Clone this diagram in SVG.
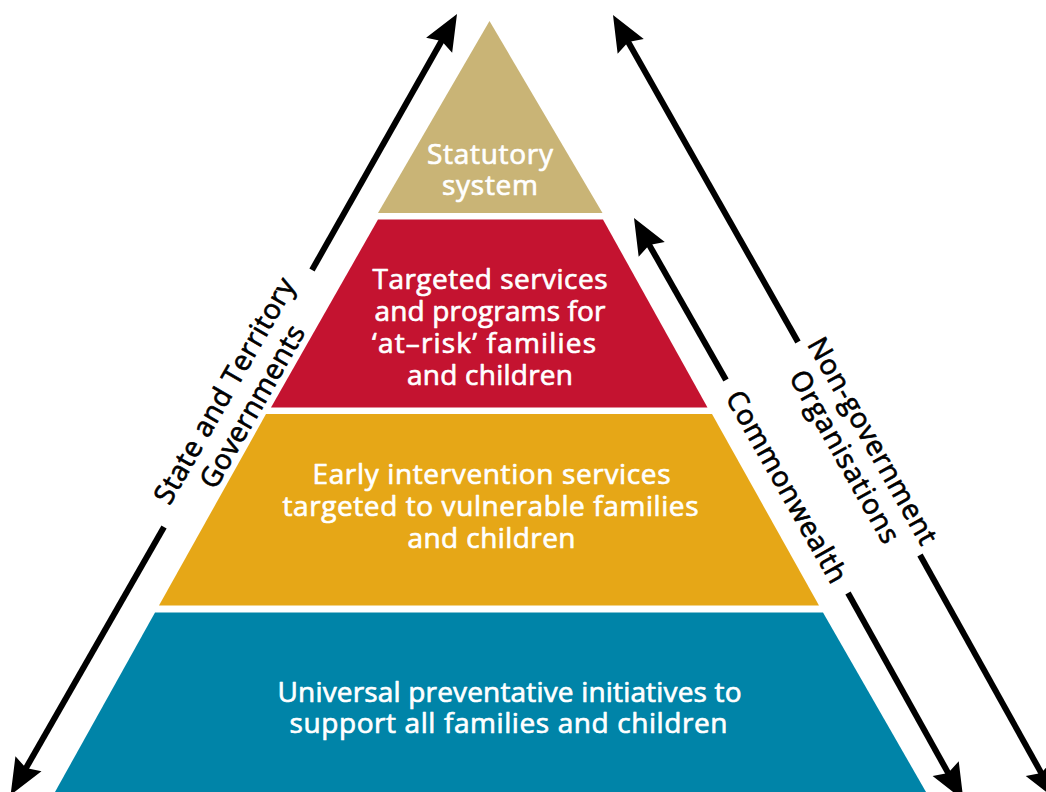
<svg xmlns="http://www.w3.org/2000/svg" xmlns:xlink="http://www.w3.org/1999/xlink" width="1046" height="792" viewBox="0 0 1046 792">
<style>
  text { font-family: "Open Sans", "Noto Sans", "Liberation Sans", sans-serif; font-size: 28px; text-anchor: middle; stroke-width: 0.7px; stroke-linejoin: round; }
  .w { fill: #ffffff; stroke: #ffffff; }
  .k { fill: #000000; stroke: #000000; }
  .shaft { stroke: #000000; stroke-width: 6; fill: none; stroke-linecap: butt; }
  .head { fill: #000000; }
</style>
<defs>
  <path id="ah" d="M0,0 L-36,-15 L-31,0 L-36,15 Z"/>
</defs>
<rect x="0" y="0" width="1046" height="792" fill="#ffffff"/>

<g id="tier-statutory">
  <polygon points="489.5,21 602.5,213 378,213" fill="#C9B476"/>
  <text class="w"><tspan x="490" y="164" textLength="126" lengthAdjust="spacing">Statutory</tspan><tspan x="490" y="195" textLength="96" lengthAdjust="spacing">system</tspan></text>
</g>
<g id="tier-targeted">
  <polygon points="378,219.5 603,219.5 707.5,407.5 271,407.5" fill="#C41330"/>
  <text class="w"><tspan x="490" y="289" textLength="235" lengthAdjust="spacing">Targeted services</tspan><tspan x="490" y="321" textLength="231" lengthAdjust="spacing">and programs for</tspan><tspan x="484" y="353" textLength="224" lengthAdjust="spacing">‘at–risk’ families</tspan><tspan x="490" y="385" textLength="166" lengthAdjust="spacing">and children</tspan></text>
</g>
<g id="tier-early">
  <polygon points="266,414 712,414 819,605.5 159,605.5" fill="#E6A717"/>
  <text class="w"><tspan x="491.5" y="484" textLength="358" lengthAdjust="spacing">Early intervention services</tspan><tspan x="490.5" y="516" textLength="416" lengthAdjust="spacing">targeted to vulnerable families</tspan><tspan x="491.5" y="548" textLength="168" lengthAdjust="spacing">and children</tspan></text>
</g>
<g id="tier-universal">
  <polygon points="155,612.5 823,612.5 926,792 55,792" fill="#0084A8"/>
  <text class="w"><tspan x="509.5" y="702" textLength="464" lengthAdjust="spacing">Universal preventative initiatives to</tspan><tspan x="508.5" y="733" textLength="438" lengthAdjust="spacing">support all families and children</tspan></text>
</g>

<g id="connectors">
  <g id="arrow-state">
    <line class="shaft" x1="312" y1="270" x2="443.1" y2="38.3"/>
    <line class="shaft" x1="164" y1="527" x2="24.5" y2="770.7"/>
    <use xlink:href="#ah" class="head" transform="translate(457,14) rotate(-60.25)"/>
    <use xlink:href="#ah" class="head" transform="translate(10.6,795) rotate(119.75)"/>
  </g>
  <g id="arrow-ngo">
    <line class="shaft" x1="798" y1="342" x2="626.8" y2="39.4"/>
    <line class="shaft" x1="920" y1="555" x2="1042.7" y2="775.6"/>
    <use xlink:href="#ah" class="head" transform="translate(613,15) rotate(-119.46)"/>
    <use xlink:href="#ah" class="head" transform="translate(1056.5,800) rotate(60.54)"/>
  </g>
  <g id="arrow-commonwealth">
    <line class="shaft" x1="726" y1="380" x2="647.8" y2="242.4"/>
    <line class="shaft" x1="848" y1="593" x2="949.6" y2="775.6"/>
    <use xlink:href="#ah" class="head" transform="translate(634,218) rotate(-119.5)"/>
    <use xlink:href="#ah" class="head" transform="translate(963.4,800) rotate(60.5)"/>
  </g>
</g>

<g id="label-state" transform="translate(238,398.5) rotate(-60.25)">
  <text class="k"><tspan x="0" y="-6" textLength="255" lengthAdjust="spacing">State and Territory</tspan><tspan x="0" y="26" textLength="183" lengthAdjust="spacing">Governments</tspan></text>
</g>
<g id="label-ngo" transform="translate(859,448.5) rotate(60.5)">
  <text class="k"><tspan x="0" y="-6" textLength="233" lengthAdjust="spacing">Non-government</tspan><tspan x="0" y="26" textLength="194" lengthAdjust="spacing">Organisations</tspan></text>
</g>
<g id="label-commonwealth" transform="translate(787,486.5) rotate(60.5)">
  <text class="k" x="0" y="10" textLength="216" lengthAdjust="spacing">Commonwealth</text>
</g>
</svg>
